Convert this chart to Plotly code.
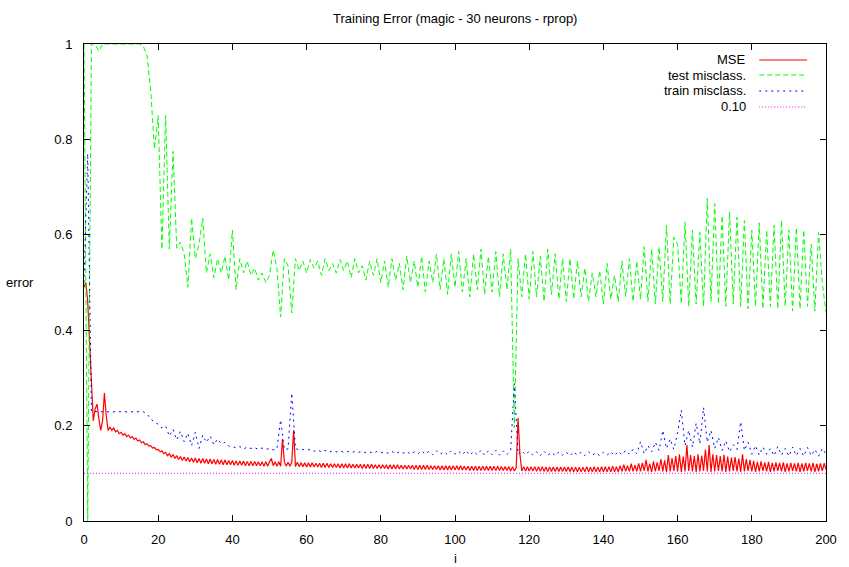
import numpy as np
import plotly.graph_objects as go

# ---------------- data ----------------
# MSE sampled every 0.5 on i (401 values, i = 0 .. 200)
mse = [
    0.490, 0.500, 0.460, 0.380, 0.300, 0.210, 0.235, 0.245, 0.215, 0.190, 0.210, 0.268, 0.220, 0.190, 0.197, 0.190, 0.195, 0.187, 0.190, 0.183,
    0.186, 0.180, 0.183, 0.177, 0.180, 0.174, 0.177, 0.171, 0.174, 0.168, 0.170, 0.164, 0.166, 0.160, 0.162, 0.157, 0.158, 0.153, 0.154, 0.149,
    0.150, 0.145, 0.147, 0.141, 0.144, 0.137, 0.141, 0.134, 0.139, 0.131, 0.137, 0.129, 0.135, 0.127, 0.134, 0.126, 0.133, 0.124, 0.132, 0.123,
    0.132, 0.122, 0.131, 0.121, 0.131, 0.121, 0.130, 0.120, 0.130, 0.120, 0.129, 0.119, 0.129, 0.119, 0.128, 0.118, 0.128, 0.118, 0.127, 0.118,
    0.127, 0.117, 0.126, 0.117, 0.126, 0.117, 0.126, 0.116, 0.125, 0.116, 0.125, 0.116, 0.125, 0.116, 0.124, 0.116, 0.124, 0.115, 0.124, 0.115,
    0.124, 0.131, 0.116, 0.124, 0.115, 0.124, 0.115, 0.172, 0.125, 0.115, 0.123, 0.115, 0.123, 0.190, 0.114, 0.123, 0.114, 0.122, 0.114, 0.122,
    0.113, 0.122, 0.113, 0.122, 0.113, 0.121, 0.113, 0.121, 0.112, 0.121, 0.112, 0.121, 0.112, 0.120, 0.112, 0.120, 0.112, 0.120, 0.111, 0.120,
    0.111, 0.120, 0.111, 0.120, 0.111, 0.119, 0.111, 0.119, 0.111, 0.119, 0.110, 0.119, 0.110, 0.119, 0.110, 0.119, 0.110, 0.118, 0.110, 0.118,
    0.110, 0.118, 0.110, 0.118, 0.109, 0.118, 0.109, 0.118, 0.109, 0.118, 0.109, 0.117, 0.109, 0.117, 0.109, 0.117, 0.109, 0.117, 0.108, 0.117,
    0.108, 0.117, 0.108, 0.117, 0.108, 0.117, 0.108, 0.116, 0.108, 0.116, 0.108, 0.116, 0.107, 0.116, 0.107, 0.116, 0.107, 0.116, 0.107, 0.116,
    0.107, 0.116, 0.107, 0.116, 0.107, 0.115, 0.107, 0.115, 0.106, 0.115, 0.106, 0.115, 0.106, 0.115, 0.106, 0.115, 0.106, 0.115, 0.106, 0.115,
    0.106, 0.115, 0.106, 0.115, 0.106, 0.114, 0.106, 0.114, 0.106, 0.114, 0.105, 0.114, 0.105, 0.112, 0.216, 0.140, 0.105, 0.114, 0.105, 0.114,
    0.105, 0.114, 0.105, 0.114, 0.104, 0.114, 0.104, 0.114, 0.104, 0.113, 0.104, 0.113, 0.104, 0.113, 0.104, 0.113, 0.104, 0.113, 0.104, 0.113,
    0.104, 0.113, 0.104, 0.113, 0.103, 0.113, 0.103, 0.113, 0.103, 0.113, 0.103, 0.114, 0.103, 0.113, 0.103, 0.114, 0.103, 0.113, 0.103, 0.114,
    0.103, 0.114, 0.103, 0.114, 0.103, 0.115, 0.103, 0.114, 0.103, 0.116, 0.104, 0.118, 0.104, 0.116, 0.104, 0.120, 0.104, 0.117, 0.104, 0.121,
    0.104, 0.122, 0.105, 0.128, 0.104, 0.120, 0.103, 0.125, 0.104, 0.123, 0.105, 0.130, 0.104, 0.127, 0.103, 0.138, 0.104, 0.132, 0.105, 0.136,
    0.104, 0.140, 0.103, 0.135, 0.104, 0.159, 0.105, 0.138, 0.104, 0.136, 0.103, 0.140, 0.104, 0.137, 0.105, 0.150, 0.104, 0.159, 0.103, 0.140,
    0.104, 0.138, 0.105, 0.136, 0.104, 0.139, 0.103, 0.135, 0.104, 0.133, 0.105, 0.134, 0.104, 0.131, 0.103, 0.140, 0.104, 0.130, 0.105, 0.128,
    0.104, 0.126, 0.103, 0.124, 0.104, 0.125, 0.105, 0.123, 0.104, 0.124, 0.103, 0.122, 0.104, 0.123, 0.105, 0.122, 0.104, 0.123, 0.103, 0.121,
    0.104, 0.122, 0.105, 0.121, 0.104, 0.122, 0.103, 0.121, 0.104, 0.122, 0.105, 0.121, 0.104, 0.122, 0.103, 0.120, 0.104, 0.121, 0.105, 0.121,
    0.108,
]

# test misclassification, one value per i (201 values)
test_mis = [
    1.000, 0.000, 1.000, 1.000, 0.985, 1.000, 1.000, 1.000, 1.000, 1.000,
    1.000, 1.000, 1.000, 1.000, 1.000, 1.000, 0.995, 0.975, 0.900, 0.780,
    0.850, 0.570, 0.850, 0.570, 0.775, 0.572, 0.585, 0.560, 0.490, 0.635,
    0.550, 0.580, 0.635, 0.520, 0.560, 0.510, 0.550, 0.520, 0.555, 0.505,
    0.610, 0.485, 0.550, 0.520, 0.545, 0.515, 0.530, 0.505, 0.520, 0.500,
    0.515, 0.568, 0.530, 0.428, 0.550, 0.535, 0.436, 0.550, 0.525, 0.545,
    0.520, 0.548, 0.530, 0.545, 0.515, 0.550, 0.525, 0.540, 0.520, 0.548,
    0.525, 0.545, 0.510, 0.550, 0.520, 0.535, 0.505, 0.545, 0.515, 0.550,
    0.500, 0.545, 0.490, 0.550, 0.505, 0.540, 0.485, 0.555, 0.500, 0.545,
    0.490, 0.555, 0.480, 0.545, 0.500, 0.560, 0.485, 0.550, 0.475, 0.560,
    0.490, 0.565, 0.480, 0.550, 0.470, 0.560, 0.485, 0.570, 0.475, 0.555,
    0.480, 0.565, 0.470, 0.560, 0.485, 0.570, 0.195, 0.550, 0.470, 0.560,
    0.465, 0.565, 0.470, 0.555, 0.460, 0.570, 0.475, 0.560, 0.465, 0.550,
    0.460, 0.550, 0.465, 0.545, 0.470, 0.530, 0.460, 0.520, 0.470, 0.525,
    0.455, 0.540, 0.465, 0.515, 0.460, 0.545, 0.470, 0.550, 0.460, 0.545,
    0.465, 0.575, 0.460, 0.570, 0.455, 0.575, 0.460, 0.620, 0.455, 0.595,
    0.580, 0.455, 0.627, 0.450, 0.610, 0.455, 0.605, 0.450, 0.676, 0.460,
    0.665, 0.455, 0.640, 0.450, 0.648, 0.455, 0.637, 0.450, 0.630, 0.445,
    0.610, 0.450, 0.625, 0.445, 0.610, 0.450, 0.620, 0.445, 0.630, 0.450,
    0.610, 0.440, 0.615, 0.445, 0.610, 0.450, 0.580, 0.440, 0.605, 0.500,
    0.437,
]

# train misclassification, one value per i (201 values)
train_mis = [
    0.500, 0.770, 0.230, 0.229, 0.229, 0.229, 0.229, 0.229, 0.229, 0.229,
    0.229, 0.229, 0.229, 0.229, 0.229, 0.229, 0.229, 0.224, 0.214, 0.207,
    0.203, 0.195, 0.199, 0.178, 0.192, 0.170, 0.188, 0.166, 0.184, 0.158,
    0.186, 0.152, 0.180, 0.165, 0.178, 0.160, 0.172, 0.162, 0.165, 0.157,
    0.156, 0.153, 0.156, 0.151, 0.155, 0.152, 0.154, 0.150, 0.153, 0.150,
    0.152, 0.149, 0.151, 0.212, 0.150, 0.151, 0.268, 0.152, 0.149, 0.150,
    0.148, 0.150, 0.146, 0.149, 0.145, 0.148, 0.144, 0.147, 0.145, 0.147,
    0.144, 0.146, 0.143, 0.146, 0.144, 0.146, 0.143, 0.145, 0.142, 0.146,
    0.143, 0.145, 0.142, 0.146, 0.141, 0.145, 0.142, 0.146, 0.140, 0.145,
    0.141, 0.147, 0.140, 0.146, 0.139, 0.147, 0.140, 0.145, 0.139, 0.147,
    0.140, 0.146, 0.139, 0.148, 0.138, 0.146, 0.139, 0.148, 0.138, 0.147,
    0.139, 0.148, 0.138, 0.147, 0.139, 0.148, 0.288, 0.140, 0.147, 0.139,
    0.146, 0.138, 0.145, 0.137, 0.146, 0.138, 0.144, 0.137, 0.145, 0.138,
    0.144, 0.137, 0.145, 0.138, 0.144, 0.137, 0.145, 0.138, 0.143, 0.137,
    0.144, 0.138, 0.145, 0.137, 0.146, 0.139, 0.148, 0.140, 0.150, 0.141,
    0.166, 0.141, 0.158, 0.145, 0.165, 0.148, 0.190, 0.152, 0.172, 0.150,
    0.185, 0.232, 0.158, 0.190, 0.155, 0.205, 0.162, 0.238, 0.165, 0.190,
    0.152, 0.175, 0.148, 0.168, 0.145, 0.160, 0.150, 0.208, 0.148, 0.165,
    0.140, 0.158, 0.138, 0.155, 0.140, 0.152, 0.137, 0.156, 0.138, 0.152,
    0.136, 0.155, 0.137, 0.152, 0.136, 0.154, 0.137, 0.150, 0.136, 0.152,
    0.140,
]

ref_level = 0.10
x_half = np.arange(len(mse)) * 0.5          # i values for MSE
x_int = np.arange(len(test_mis))            # i values for misclass series
x_ticks = list(range(0, 201, 20))
y_ticks = [0, 0.2, 0.4, 0.6, 0.8, 1]

series_names = ["MSE", "test misclass.", "train misclass.", "0.10"]
title_text = "Training Error (magic - 30 neurons - rprop)"

assert len(mse) == 401 and len(test_mis) == 201 and len(train_mis) == 201

FONT = "Liberation Sans, Arial, Helvetica, sans-serif"
RED, GREEN, BLUE, MAG = "#ff0000", "#00ff00", "#0000ff", "#ff00ff"
GREEN_DASH, BLUE_DOT, MAG_DOT = "5px,3px", "2px,4px", "1px,2px"

fig = go.Figure()
fig.add_trace(go.Scatter(x=x_half, y=mse, mode="lines", name=series_names[0],
                         line=dict(color=RED, width=1.2)))
fig.add_trace(go.Scatter(x=x_int, y=test_mis, mode="lines", name=series_names[1],
                         line=dict(color=GREEN, width=1, dash=GREEN_DASH)))
fig.add_trace(go.Scatter(x=x_int, y=train_mis, mode="lines", name=series_names[2],
                         line=dict(color=BLUE, width=1, dash=BLUE_DOT)))
fig.add_trace(go.Scatter(x=[x_int[0], x_int[-1]], y=[ref_level, ref_level], mode="lines",
                         name=series_names[3], line=dict(color=MAG, width=1, dash=MAG_DOT)))

axis_common = dict(showline=True, linecolor="black", linewidth=1, mirror="allticks",
                   ticks="inside", ticklen=6, tickcolor="black", tickwidth=1,
                   showgrid=False, zeroline=False,
                   tickfont=dict(family=FONT, size=13, color="black"))

fig.update_xaxes(range=[0, 200], tickvals=x_ticks, ticktext=[str(v) for v in x_ticks],
                 ticklabelstandoff=6, **axis_common)
fig.update_yaxes(range=[0, 1], tickvals=y_ticks, ticktext=["0", "0.2", "0.4", "0.6", "0.8", "1"],
                 ticklabelstandoff=8, **axis_common)

# custom gnuplot-style key (text right-aligned, sample line to the right)
legend_styles = [(RED, None, 1.2), (GREEN, GREEN_DASH, 1), (BLUE, BLUE_DOT, 1), (MAG, MAG_DOT, 1)]
key_y = [0.9665, 0.935, 0.9015, 0.868]
annotations = []
shapes = []
for name, (col, dash, w), ky in zip(series_names, legend_styles, key_y):
    annotations.append(dict(x=0.8953, y=ky, xref="paper", yref="paper", text=name,
                            showarrow=False, xanchor="right", yanchor="middle",
                            font=dict(family=FONT, size=13, color="black")))
    ln = dict(color=col, width=w)
    if dash:
        ln["dash"] = dash
    shapes.append(dict(type="line", xref="paper", yref="paper", x0=0.910, x1=0.9745,
                       y0=ky, y1=ky, line=ln))

annotations.append(dict(x=0.5, y=1, xref="paper", yref="paper", yshift=26, text=title_text,
                        showarrow=False, xanchor="center", yanchor="middle",
                        font=dict(family=FONT, size=13, color="black")))
annotations.append(dict(x=0.5, y=0, xref="paper", yref="paper", yshift=-37, text="i",
                        showarrow=False, xanchor="center", yanchor="middle",
                        font=dict(family=FONT, size=13, color="black")))
annotations.append(dict(x=0, y=0.5, xref="paper", yref="paper", xshift=-64, text="error",
                        showarrow=False, xanchor="center", yanchor="middle",
                        font=dict(family=FONT, size=13, color="black")))

fig.update_layout(width=849, height=567, margin=dict(l=84, r=20, t=44, b=46),
                  paper_bgcolor="white", plot_bgcolor="white", showlegend=False,
                  annotations=annotations, shapes=shapes)

fig.write_html("out.html")
